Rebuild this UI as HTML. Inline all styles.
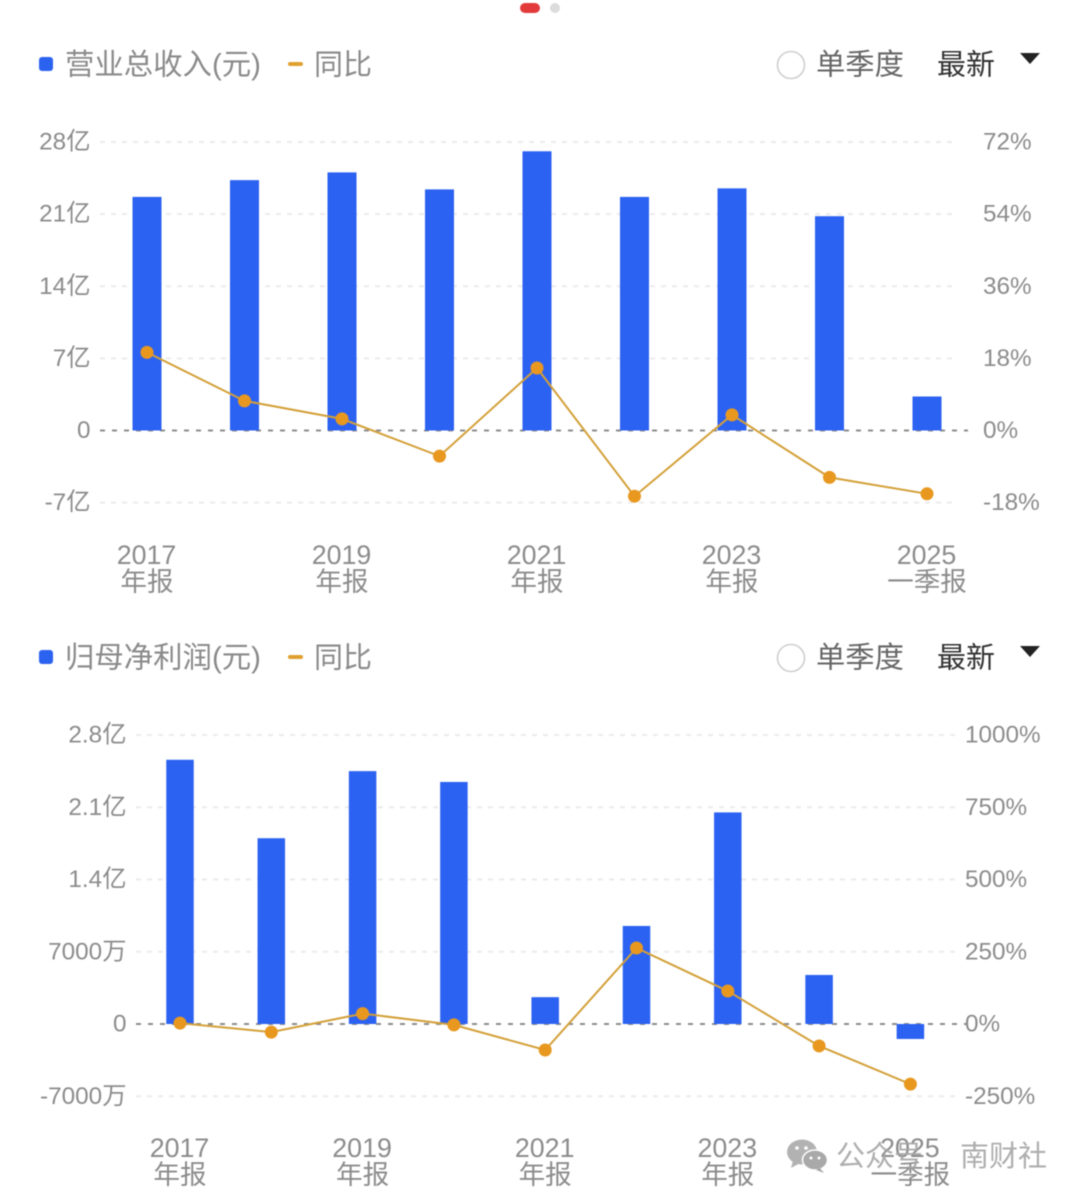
<!DOCTYPE html>
<html lang="zh">
<head>
<meta charset="utf-8">
<title>营业总收入与归母净利润</title>
<style>
html,body{margin:0;padding:0;background:#fff;}
svg{display:block;filter:blur(0.45px);font-family:"Liberation Sans","Noto Sans CJK SC",sans-serif;}
</style>
</head>
<body>
<svg id="chart-root" xmlns="http://www.w3.org/2000/svg" width="1080" height="1198" viewBox="0 0 1080 1198">
  <rect x="0" y="0" width="1080" height="1198" fill="#ffffff"/>
  <rect x="520" y="3" width="20" height="10" rx="5" fill="#e23a3a"/>
  <circle cx="555" cy="8" r="5" fill="#dcdcdc"/>

  <g>
    <rect x="39" y="57" width="14" height="14" rx="3" fill="#2b62f0"/>
    <text x="65" y="74.5" font-size="29.4" fill="#8a8a8a">营业总收入(元)</text>
    <rect x="288" y="62" width="15" height="4" rx="2" fill="#e0a030"/>
    <text x="314" y="74.5" font-size="29" fill="#8a8a8a">同比</text>
    <circle cx="791" cy="65" r="13.5" fill="#fff" stroke="#cfcfcf" stroke-width="1.6"/>
    <text x="816" y="74.5" font-size="29.3" fill="#666">单季度</text>
    <text x="937" y="74.5" font-size="29" fill="#333">最新</text>
    <polygon points="1020,53 1040,53 1030,64" fill="#222"/>
  </g>

  <g>
    <rect x="39" y="650" width="14" height="14" rx="3" fill="#2b62f0"/>
    <text x="65" y="667.5" font-size="29.4" fill="#8a8a8a">归母净利润(元)</text>
    <rect x="288" y="655" width="15" height="4" rx="2" fill="#e0a030"/>
    <text x="314" y="667.5" font-size="29" fill="#8a8a8a">同比</text>
    <circle cx="791" cy="658" r="13.5" fill="#fff" stroke="#cfcfcf" stroke-width="1.6"/>
    <text x="816" y="667.5" font-size="29.3" fill="#666">单季度</text>
    <text x="937" y="667.5" font-size="29" fill="#333">最新</text>
    <polygon points="1020,646 1040,646 1030,657" fill="#222"/>
  </g>

  <g id="revenue-chart"></g>
  <g id="profit-chart"></g>

  <g opacity="0.9">
    <ellipse cx="802" cy="1152" rx="15" ry="12.5" fill="#aaaaaa"/>
    <polygon points="793,1161 791,1168 800,1163" fill="#aaaaaa"/>
    <ellipse cx="815" cy="1160" rx="12.5" ry="10" fill="#a0a0a0" stroke="#fff" stroke-width="1.5"/>
    <polygon points="820,1168 824,1173 816,1170" fill="#a0a0a0"/>
    <circle cx="797" cy="1148" r="1.8" fill="#fff"/>
    <circle cx="806" cy="1148" r="1.8" fill="#fff"/>
    <circle cx="811" cy="1158" r="1.5" fill="#fff"/>
    <circle cx="819" cy="1158" r="1.5" fill="#fff"/>
    <text x="836" y="1166" font-size="29" fill="#a6a6a6">公众号</text>
    <text x="960" y="1166" font-size="29" fill="#a6a6a6">南财社</text>
  </g>
</svg>

<script>
const periodYears = ['2017', '2018', '2019', '2020', '2021', '2022', '2023', '2024', '2025'];
const periodTypes = ['年报', '年报', '年报', '年报', '年报', '年报', '年报', '年报', '一季报'];
const periodLabelShown = [true, false, true, false, true, false, true, false, true];

const revenueValues = [22.67, 24.3, 25.05, 23.4, 27.1, 22.67, 23.5, 20.8, 3.3];
const revenueYoY = [19.5, 7.4, 2.9, -6.4, 15.6, -16.4, 3.9, -11.7, -15.8];
const revenueLeftTicks = [28, 21, 14, 7, 0, -7];
const revenueLeftLabels = ['28亿', '21亿', '14亿', '7亿', '0', '-7亿'];
const revenueRightTicks = [72, 54, 36, 18, 0, -18];
const revenueRightLabels = ['72%', '54%', '36%', '18%', '0%', '-18%'];

const profitValues = [2.56, 1.8, 2.45, 2.345, 0.26, 0.95, 2.05, 0.475, -0.145];
const profitYoY = [3, -28, 36, -3, -90, 263, 114, -76, -208];
const profitLeftTicks = [2.8, 2.1, 1.4, 0.7, 0, -0.7];
const profitLeftLabels = ['2.8亿', '2.1亿', '1.4亿', '7000万', '0', '-7000万'];
const profitRightTicks = [1000, 750, 500, 250, 0, -250];
const profitRightLabels = ['1000%', '750%', '500%', '250%', '0%', '-250%'];

const SVG_NS = 'http://www.w3.org/2000/svg';

function makeNode(tag, attrs, parent) {
  const node = document.createElementNS(SVG_NS, tag);
  Object.keys(attrs).forEach(function (key) { node.setAttribute(key, attrs[key]); });
  parent.appendChild(node);
  return node;
}

function drawChart(cfg) {
  const root = document.getElementById(cfg.id);
  const xScale = function (i) { return cfg.firstX + i * cfg.stepX; };
  const yLeft = function (v) { return cfg.zeroY - v * (cfg.zeroY - cfg.topY) / cfg.leftTicks[0]; };
  const yRight = function (v) { return cfg.zeroY - v * (cfg.zeroY - cfg.topY) / cfg.rightTicks[0]; };

  cfg.leftTicks.forEach(function (tick, i) {
    const y = yLeft(tick);
    const isZero = tick === 0;
    const grid = makeNode('line', {
      x1: cfg.gridStart, x2: isZero ? cfg.gridEnd + 12 : cfg.gridEnd, y1: y, y2: y,
      stroke: isZero ? '#8c8c8c' : '#ebebeb',
      'stroke-width': 2,
      'stroke-dasharray': isZero ? '5 7' : '5 6'
    }, root);
    
    

    const left = makeNode('text', {
      x: cfg.leftLabelX, y: y + 7.5, 'text-anchor': 'end', 'font-size': 24.3, fill: '#8c8c8c'
    }, root);
    left.textContent = cfg.leftLabels[i];
    
    

    const right = makeNode('text', {
      x: cfg.rightLabelX, y: y + 7.5, 'text-anchor': 'start', 'font-size': 24.3, fill: '#8c8c8c'
    }, root);
    right.textContent = cfg.rightLabels[i];
    
    
  });

  cfg.bars.forEach(function (value, i) {
    const y0 = yLeft(0);
    const y1 = yLeft(value);
    const bar = makeNode('rect', {
      x: xScale(i) - cfg.barWidth / 2,
      y: Math.min(y0, y1),
      width: cfg.barWidth,
      height: Math.abs(y1 - y0),
      fill: '#2c62f2'
    }, root);
    
    
  });

  const linePoints = cfg.yoy.map(function (value, i) {
    return xScale(i) + ',' + yRight(value);
  }).join(' ');
  const yoyLine = makeNode('polyline', {
    points: linePoints, fill: 'none', stroke: '#d3a038', 'stroke-width': 2
  }, root);
  
  

  cfg.yoy.forEach(function (value, i) {
    const point = makeNode('circle', {
      cx: xScale(i), cy: yRight(value), r: 6.5, fill: '#e8981f'
    }, root);
    
    
  });

  periodYears.forEach(function (year, i) {
    if (!periodLabelShown[i]) { return; }
    const yearLabel = makeNode('text', {
      x: xScale(i) - 0.5, y: cfg.xLabelY, 'text-anchor': 'middle', 'font-size': 26.8, fill: '#8c8c8c'
    }, root);
    yearLabel.textContent = year;
    
    

    const typeLabel = makeNode('text', {
      x: xScale(i), y: cfg.xLabelY + 27, 'text-anchor': 'middle', 'font-size': 26.6, fill: '#8c8c8c'
    }, root);
    typeLabel.textContent = periodTypes[i];
    
    
  });
}

drawChart({
  id: 'revenue-chart',
  bars: revenueValues, yoy: revenueYoY,
  leftTicks: revenueLeftTicks, leftLabels: revenueLeftLabels,
  rightTicks: revenueRightTicks, rightLabels: revenueRightLabels,
  firstX: 147, stepX: 97.5, barWidth: 29,
  topY: 142, zeroY: 430.5,
  gridStart: 100, gridEnd: 956,
  leftLabelX: 90.5, rightLabelX: 983, xLabelY: 564
});

drawChart({
  id: 'profit-chart',
  bars: profitValues, yoy: profitYoY,
  leftTicks: profitLeftTicks, leftLabels: profitLeftLabels,
  rightTicks: profitRightTicks, rightLabels: profitRightLabels,
  firstX: 180, stepX: 91.3, barWidth: 27.5,
  topY: 735, zeroY: 1024,
  gridStart: 136, gridEnd: 956,
  leftLabelX: 126.5, rightLabelX: 965, xLabelY: 1157
});
</script>
</body>
</html>
